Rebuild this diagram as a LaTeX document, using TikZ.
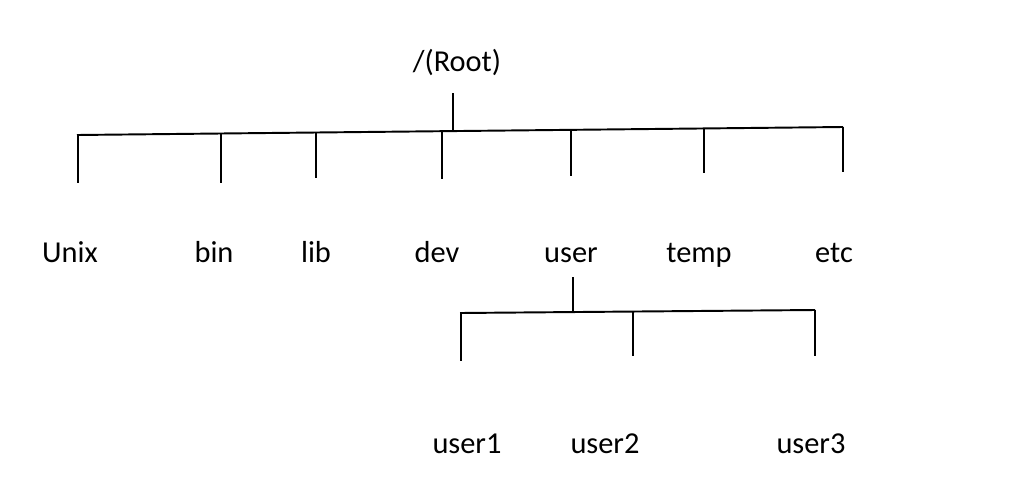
\documentclass[tikz,border=0pt]{standalone}
\usepackage{fontspec}
\setmainfont{Carlito}

\begin{document}
\begin{tikzpicture}[x=0.02cm,y=-0.02cm,line width=1.1pt,
  dirname/.style={anchor=base,inner sep=0pt,font=\fontsize{17.3}{20}\selectfont}]
  \useasboundingbox (0,0) rectangle (1024,477);
  % directory names
  \node[dirname] (root) at (457,71) {/(Root)};
  \node[dirname] (unix) at (70,262) {Unix};
  \node[dirname] (bin)  at (214,262) {bin};
  \node[dirname] (lib)  at (316,262) {lib};
  \node[dirname] (dev)  at (437,262) {dev};
  \node[dirname] (user) at (571,262) {user};
  \node[dirname] (temp) at (699,262) {temp};
  \node[dirname] (etc)  at (834,262) {etc};
  \node[dirname] (user1) at (467,453) {user1};
  \node[dirname] (user2) at (605,453) {user2};
  \node[dirname] (user3) at (811,453) {user3};
  % first level
  \coordinate (root-t) at (453,93);
  \coordinate (root-b) at (453,131);
  \coordinate (bus-l) at (77,135);
  \coordinate (bus-r) at (843,127);
  \draw (root-t) -- (root-b);
  \draw (bus-l) -- (bus-r);
  \foreach \n/\x/\t/\b in {unix/78/135/183, bin/221/134/183, lib/316/133/178,
      dev/442/132/179, user/571/130/176, temp/704/128/173, etc/843/127/172}
  {
    \coordinate (\n-t) at (\x,\t);
    \coordinate (\n-b) at (\x,\b);
    \draw (\n-t) -- (\n-b);
  }
  % second level under user
  \coordinate (sub-t) at (573,277);
  \coordinate (sub-b) at (573,312);
  \coordinate (subbus-l) at (460,313);
  \coordinate (subbus-r) at (815,310);
  \draw (sub-t) -- (sub-b);
  \draw (subbus-l) -- (subbus-r);
  \foreach \n/\x/\t/\b in {user1/461/313/361, user2/633/311/356, user3/815/310/356}
  {
    \coordinate (\n-t) at (\x,\t);
    \coordinate (\n-b) at (\x,\b);
    \draw (\n-t) -- (\n-b);
  }
\end{tikzpicture}
\end{document}
